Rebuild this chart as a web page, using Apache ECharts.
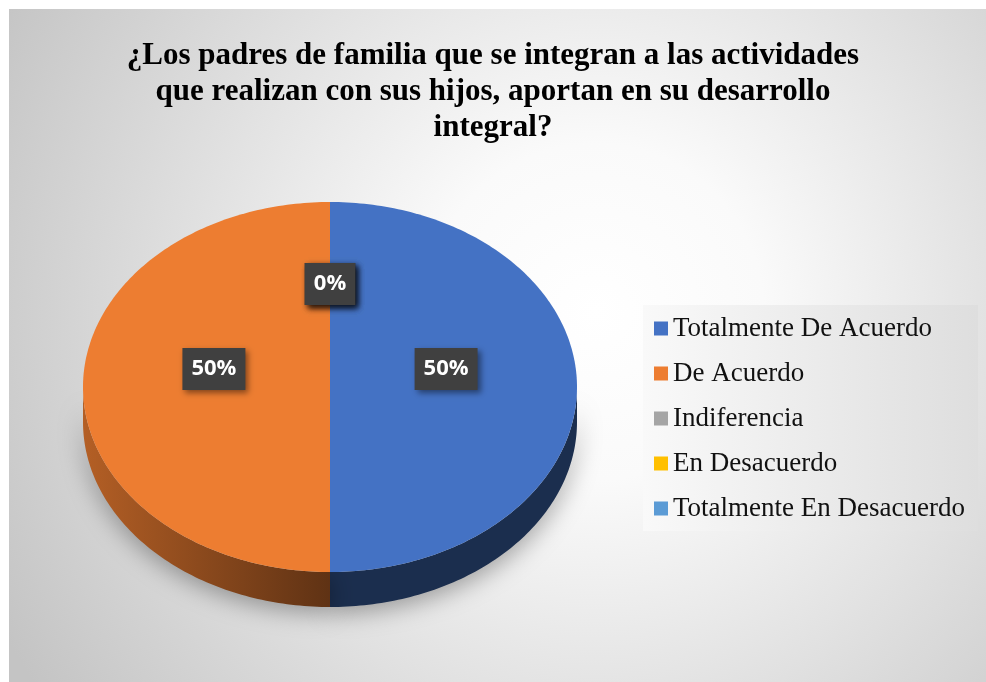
<!DOCTYPE html>
<html>
<head>
<meta charset="utf-8">
<script src="https://cdn.jsdelivr.net/npm/echarts@6/dist/echarts.min.js"></script>
<style>
  html, body { margin: 0; padding: 0; background: #fff; }
  #chart { width: 986px; height: 682px; }
</style>
</head>
<body>
<div id="chart"></div>
<script>
const titleText = '¿Los padres de familia que se integran a las actividades\nque realizan con sus hijos, aportan en su desarrollo\nintegral?'
const categories = ['Totalmente De Acuerdo', 'De Acuerdo', 'Indiferencia', 'En Desacuerdo', 'Totalmente En Desacuerdo']
const values = [50, 50, 0, 0, 0]
const colors = ['#4472c4', '#ed7d31', '#a5a5a5', '#ffc000', '#5b9bd5']

// pie geometry (tilted 3D look)
const cx = 330, cy = 387, rx = 247, ry = 185, depth = 35
const total = values.reduce((a, b) => a + b, 0)

const shade = (hex, k) => {
  const n = parseInt(hex.slice(1), 16)
  const r = Math.round(((n >> 16) & 255) * k)
  const g = Math.round(((n >> 8) & 255) * k)
  const b = Math.round((n & 255) * k)
  return `rgb(${r},${g},${b})`
}

const pt = (deg, dy = 0) => {
  const a = deg * Math.PI / 180
  return [cx + rx * Math.sin(a), cy - ry * Math.cos(a) + dy]
}

const arc = (a, b, dy) => {
  const pts = []
  const n = Math.max(1, Math.ceil(b - a))
  for (let i = 0; i <= n; i++) pts.push(pt(a + (b - a) * i / n, dy))
  return pts
}

const renderSlice = (params) => {
  const i = params.seriesIndex
  const before = values.slice(0, i).reduce((a, b) => a + b, 0)
  const start = before / total * 360
  const end = (before + values[i]) / total * 360
  const children = []

  // front wall
  const s0 = Math.max(start, 90)
  const s1 = Math.min(end, 270)
  if (s1 > s0) {
    const pts = arc(s0, s1, 0).concat(arc(s0, s1, depth).reverse())
    children.push({
      type: 'polygon',
      z2: 1,
      shape: { points: pts },
      style: {
        fill: new echarts.graphic.LinearGradient(cx - rx, 0, cx + rx, 0, [
          { offset: 0, color: shade(colors[i], 0.76) },
          { offset: 0.5, color: shade(colors[i], 0.4) },
          { offset: 1, color: shade(colors[i], 0.4) }
        ], true),
        shadowBlur: 24,
        shadowColor: 'rgba(0,0,0,0.35)',
        shadowOffsetY: 6
      }
    })
  }

  // top face
  if (end > start) {
    children.push({
      type: 'polygon',
      z2: 10,
      shape: { points: [[cx, cy]].concat(arc(start, end, 0)) },
      style: { fill: colors[i] }
    })
  }

  // data label
  const mid = (start + end) / 2 * Math.PI / 180
  children.push({
    type: 'text',
    z2: 20,
    x: cx + 0.47 * rx * Math.sin(mid),
    y: cy - 0.46 * ry * Math.cos(mid) - 18,
    style: {
      text: Math.round(values[i] / total * 100) + '%',
      fill: '#fff',
      fontFamily: 'Open Sans',
      fontWeight: 'bold',
      fontSize: 22,
      lineHeight: 22,
      align: 'center',
      verticalAlign: 'middle',
      backgroundColor: '#404040',
      padding: [10, 9],
      shadowBlur: 6,
      shadowColor: 'rgba(0,0,0,0.45)',
      shadowOffsetX: 3,
      shadowOffsetY: 3
    }
  })
  return { type: 'group', children }
}

const chart = echarts.init(document.getElementById('chart'))
chart.setOption({
  backgroundColor: '#fff',
  animation: false,
  graphic: [{
    type: 'rect',
    z: -10,
    silent: true,
    shape: { x: 9, y: 9, width: 977, height: 673 },
    style: {
      fill: new echarts.graphic.RadialGradient(0.6, 0.45, 1, [
        { offset: 0, color: '#ffffff' },
        { offset: 0.25, color: '#fafafa' },
        { offset: 1, color: '#c4c4c4' }
      ])
    }
  }],
  title: {
    text: titleText,
    left: 'center',
    top: 33,
    textStyle: { fontFamily: 'Liberation Serif', fontWeight: 'bold', fontSize: 31, lineHeight: 36, color: '#000' }
  },
  legend: {
    orient: 'vertical',
    left: 643,
    top: 305,
    padding: [10, 13, 9, 11],
    itemGap: 18,
    itemWidth: 14,
    itemHeight: 14,
    icon: 'rect',
    selectedMode: false,
    backgroundColor: new echarts.graphic.LinearGradient(0, 0, 1, 0, [
      { offset: 0, color: '#f9f9f9' },
      { offset: 1, color: '#dedede' }
    ]),
    textStyle: { fontFamily: 'Liberation Serif', fontSize: 27, color: '#111' },
    data: categories
  },
  series: categories.map((name, i) => ({
    name,
    type: 'custom',
    coordinateSystem: 'none',
    silent: true,
    itemStyle: { color: colors[i] },
    renderItem: renderSlice,
    data: [values[i]]
  }))
})
</script>
</body>
</html>
